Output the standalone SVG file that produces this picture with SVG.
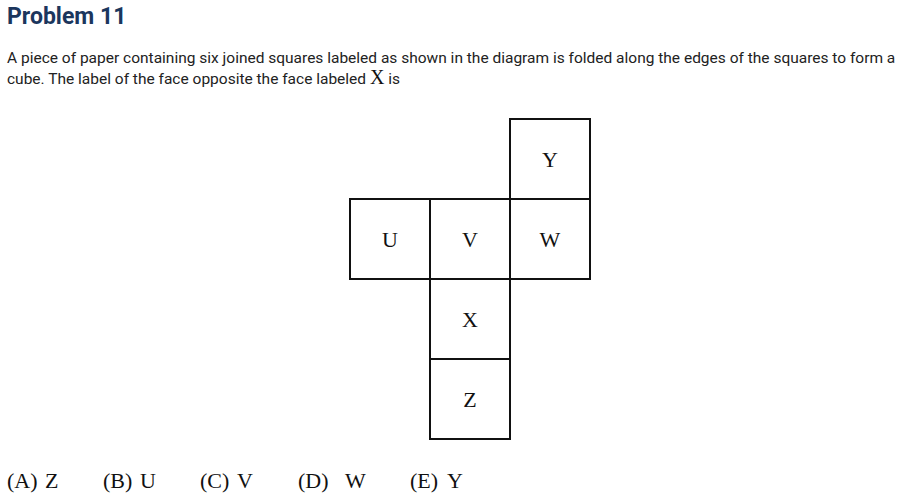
<svg xmlns="http://www.w3.org/2000/svg" width="900" height="501" viewBox="0 0 900 501">
<style>
.title{font-family:Roboto,"Liberation Sans",sans-serif;font-weight:bold;font-size:23px;fill:#1b365d}
.body{font-family:Roboto,"Liberation Sans",sans-serif;font-size:15.5px;fill:#222}
.serif{font-family:"Liberation Serif","DejaVu Serif",serif;fill:#111}
.lab{font-family:"Liberation Serif","DejaVu Serif",serif;font-size:22px;fill:#111;text-anchor:middle}
.ans{font-family:"Liberation Serif","DejaVu Serif",serif;font-size:22px;fill:#111}
.sq{fill:none;stroke:#111;stroke-width:2}
</style>
<rect width="900" height="501" fill="#fff"/>
<text class="title" x="7" y="24">Problem 11</text>
<text class="body" x="7" y="63">A piece of paper containing six joined squares labeled as shown in the diagram is folded along the edges of the squares to form a</text>
<text class="body" x="7" y="84">cube. The label of the face opposite the face labeled <tspan class="serif" font-size="20px">X</tspan> is</text>
<g id="net">
<g id="face-Y"><rect class="sq" x="510" y="119" width="80" height="80"/><text class="lab" x="550" y="167">Y</text></g>
<g id="face-U"><rect class="sq" x="350" y="199" width="80" height="80"/><text class="lab" x="390" y="247">U</text></g>
<g id="face-V"><rect class="sq" x="430" y="199" width="80" height="80"/><text class="lab" x="470" y="247">V</text></g>
<g id="face-W"><rect class="sq" x="510" y="199" width="80" height="80"/><text class="lab" x="550" y="247">W</text></g>
<g id="face-X"><rect class="sq" x="430" y="279" width="80" height="80"/><text class="lab" x="470" y="327">X</text></g>
<g id="face-Z"><rect class="sq" x="430" y="359" width="80" height="80"/><text class="lab" x="470" y="407">Z</text></g>
</g>
<g id="answers">
<text class="ans" x="7" y="488">(A)</text><text class="ans" x="45" y="488">Z</text>
<text class="ans" x="103" y="488">(B)</text><text class="ans" x="140" y="488">U</text>
<text class="ans" x="200" y="488">(C)</text><text class="ans" x="237" y="488">V</text>
<text class="ans" x="298" y="488">(D)</text><text class="ans" x="345" y="488">W</text>
<text class="ans" x="410" y="488">(E)</text><text class="ans" x="447" y="488">Y</text>
</g>
</svg>
